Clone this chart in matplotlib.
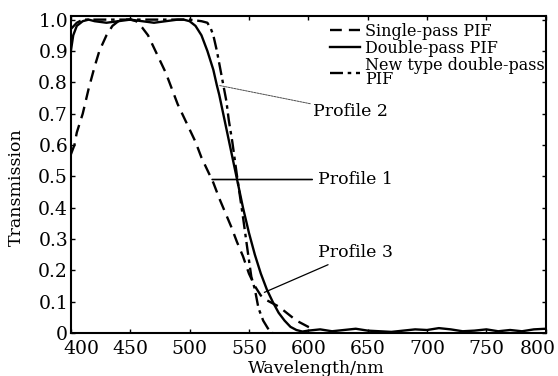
import matplotlib
matplotlib.use("Agg")
import matplotlib.pyplot as plt
import matplotlib.transforms as mtransforms

plt.rcParams['font.family'] = ['DejaVu Serif']

# single-pass PIF (dashed)
wl_single = [400, 403, 405, 410, 415, 420, 424, 430, 435, 440, 445, 450, 455, 460,
             465, 470, 475, 480, 485, 490, 495, 500, 505, 510, 515, 520, 525, 530,
             535, 540, 545, 550, 555, 560, 565, 570, 575, 580, 585, 590, 595, 600, 605]
t_single = [0.57, 0.60, 0.64, 0.70, 0.78, 0.85, 0.90, 0.95, 0.98, 0.995, 1.0, 1.0, 0.995, 0.975,
            0.95, 0.91, 0.87, 0.83, 0.78, 0.73, 0.69, 0.65, 0.61, 0.56, 0.52, 0.48, 0.43, 0.385,
            0.34, 0.29, 0.245, 0.19, 0.15, 0.12, 0.105, 0.095, 0.085, 0.07, 0.055, 0.04, 0.03, 0.02, 0.012]

# double-pass PIF (solid), incl. the noisy floor out to 800 nm
wl_double = [400, 402, 405, 410, 415, 420, 430, 440, 450, 460, 470, 480, 490, 495,
             500, 505, 510, 515, 520, 523, 525, 530, 535, 540, 545, 550, 555, 560,
             565, 570, 575, 580, 585, 590, 595, 600, 610, 620, 630, 640, 650, 660,
             670, 680, 690, 700, 710, 720, 730, 740, 750, 760, 770, 780, 790, 800]
t_double = [0.90, 0.95, 0.98, 0.995, 1.0, 0.995, 0.99, 0.995, 1.0, 0.995, 0.99, 0.995, 1.0, 1.0,
            0.995, 0.98, 0.95, 0.90, 0.84, 0.79, 0.76, 0.67, 0.58, 0.49, 0.40, 0.32, 0.25, 0.19,
            0.14, 0.10, 0.065, 0.04, 0.02, 0.01, 0.005, 0.008, 0.012, 0.006, 0.01, 0.014, 0.008, 0.006,
            0.004, 0.008, 0.012, 0.01, 0.016, 0.012, 0.006, 0.008, 0.012, 0.006, 0.01, 0.006, 0.012, 0.014]

# new type double-pass PIF (dash-dot)
wl_new = [400, 405, 410, 420, 440, 460, 480, 500, 510, 515, 518, 520, 523, 525,
          528, 531, 533, 536, 540, 545, 549, 552, 555, 558, 562, 566, 570]
t_new = [0.97, 0.99, 1.0, 1.0, 1.0, 1.0, 1.0, 1.0, 0.995, 0.99, 0.97, 0.95, 0.90, 0.86,
         0.80, 0.74, 0.68, 0.61, 0.50, 0.37, 0.26, 0.18, 0.14, 0.08, 0.04, 0.015, 0.0]

labels = ['Single-pass PIF', 'Double-pass PIF', 'New type double-pass\nPIF']
x_ticks = [400, 450, 500, 550, 600, 650, 700, 750, 800]
y_ticks = [0, 0.1, 0.2, 0.3, 0.4, 0.5, 0.6, 0.7, 0.8, 0.9, 1.0]
y_ticklabels = ['0', '0.1', '0.2', '0.3', '0.4', '0.5', '0.6', '0.7', '0.8', '0.9', '1.0']

fig = plt.figure(figsize=(5.58, 3.76), dpi=100)
ax = fig.add_axes([0.127, 0.114, 0.851, 0.843])

lw = 1.7
ax.plot(wl_single, t_single, color='black', lw=lw, dashes=(5, 3), label=labels[0])
ax.plot(wl_double, t_double, color='black', lw=lw, label=labels[1])
ax.plot(wl_new, t_new, color='black', lw=lw, dashes=(5.5, 2, 1.5, 2), label=labels[2])

ax.set_xlim(400, 800)
ax.set_ylim(0, 1.011)
ax.set_xticks(x_ticks)
ax.set_yticks(y_ticks)
ax.set_yticklabels(y_ticklabels)
ax.tick_params(direction='in', length=3, width=1, top=True, right=True,
               labelsize=13.5, pad=2)
ax.tick_params(axis='x', pad=5)
for s in ax.spines.values():
    s.set_linewidth(1.5)

# the scanned labels at both ends sit a little inwards
xlabels = ax.get_xticklabels()
xlabels[0].set_transform(xlabels[0].get_transform() +
                         mtransforms.ScaledTranslation(11 / 100, 0, fig.dpi_scale_trans))
xlabels[-1].set_transform(xlabels[-1].get_transform() +
                          mtransforms.ScaledTranslation(-8 / 100, 0, fig.dpi_scale_trans))

ax.set_xlabel('Wavelength/nm', fontsize=12.5)
ax.xaxis.set_label_coords(0.516, -0.085)
ax.set_ylabel('Transmission', fontsize=12.5)
ax.yaxis.set_label_coords(-0.097, 0.46)

# profile callouts
ax.annotate('Profile 2', xy=(525, 0.79), xytext=(604, 0.706), fontsize=12.5,
            ha='left', va='center',
            arrowprops=dict(arrowstyle='-', color='0.3', lw=0.7, ls=(0, (2, 1)), shrinkA=0, shrinkB=0))
ax.annotate('Profile 1', xy=(519, 0.49), xytext=(608, 0.49), fontsize=12.5,
            ha='left', va='center',
            arrowprops=dict(arrowstyle='-', color='black', lw=1.2, shrinkA=2, shrinkB=0))
ax.annotate('Profile 3', xy=(563, 0.13), xytext=(608, 0.256), fontsize=12.5,
            ha='left', va='center',
            arrowprops=dict(arrowstyle='-', color='black', lw=0.9, shrinkA=1, shrinkB=0))

leg = ax.legend(loc='upper right', fontsize=11.5, frameon=False, labelspacing=0,
                handlelength=1.9, handletextpad=0.3, borderaxespad=0.0, borderpad=0.2,
                bbox_to_anchor=(1.005, 0.99))
for t in leg.get_texts():
    t.set_linespacing(0.8)

fig.savefig('out.png', dpi=100)
